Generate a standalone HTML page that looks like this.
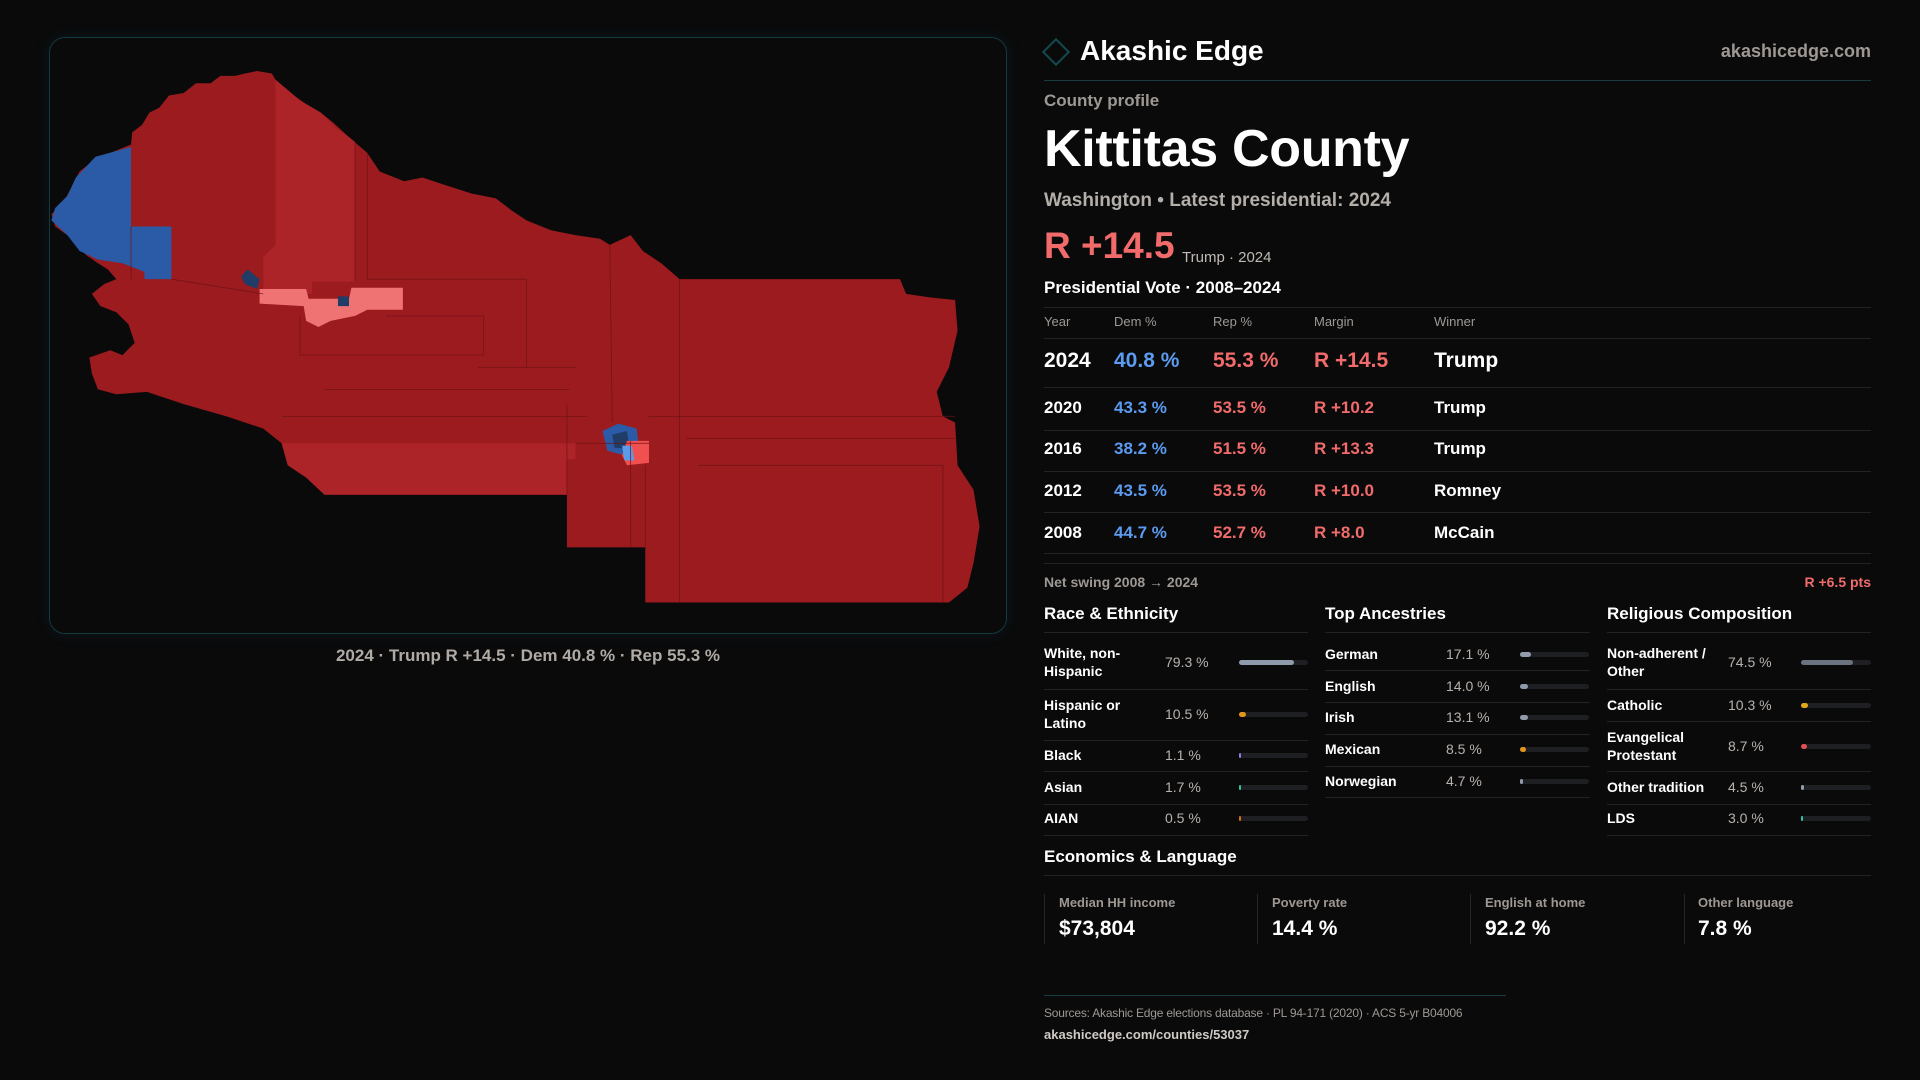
<!DOCTYPE html>
<html><head><meta charset="utf-8"><style>
*{margin:0;padding:0;box-sizing:border-box}
body{width:1920px;height:1080px;background:#0a0a0b;overflow:hidden;position:relative;font-family:"Liberation Sans",sans-serif;color:#fff}
.a{position:absolute;white-space:nowrap;line-height:1}
.g{color:#9e9893}
.r{color:#f26b6b}
.b{color:#5b9bf0}
.hl{position:absolute;height:1px;background:#222226}
.bar{position:absolute;height:5px;border-radius:3px;background:#1e1f23}
.bar i{position:absolute;left:0;top:0;height:5px;border-radius:3px}
.lab{font-size:14px;font-weight:bold;line-height:18px}
.val{font-size:14px;color:#b8b2ad}
.st{position:absolute;width:1px;background:#26262a;top:894px;height:50px}
</style></head><body>
<div style="position:absolute;left:49px;top:37px;width:958px;height:597px;border:1px solid #123a3f;border-radius:16px;box-shadow:0 0 14px rgba(20,90,100,0.18)"></div>
<svg style="position:absolute;left:0;top:0" width="1920" height="1080" viewBox="0 0 1568 882">
<path fill="#9b1b1f" d="M192,62 L200,60 L210,58 L222,60 L228,70 L240,78 L250,85 L262,92 L272,100 L285,112 L300,125 L310,140 L330,148 L345,145 L360,150 L385,158 L405,162 L418,172 L430,180 L450,188 L470,192 L490,195 L498,200 L515,192 L525,205 L540,215 L555,228 L735,228 L740,240 L760,243 L780,245 L782,270 L775,300 L765,320 L770,340 L780,345 L782,380 L795,400 L800,430 L795,460 L790,480 L775,492 L527,492 L527,447 L463,447 L463,404 L265,404 L250,390 L235,380 L230,362 L215,350 L185,340 L150,330 L120,320 L95,322 L80,318 L75,305 L73,292 L90,286 L100,290 L110,280 L105,265 L95,255 L82,250 L75,240 L85,232 L95,228 L88,220 L80,215 L70,208 L65,200 L55,192 L45,185 L42,175 L52,165 L60,150 L65,140 L78,130 L90,125 L107,118 L108,108 L116,102 L122,92 L130,88 L138,78 L150,76 L160,68 L172,68 L180,62Z"/>
<path fill="#ac2328" d="M225,65 L245,82 L262,92 L275,105 L285,112 L290,116 L290,230 L255,230 L255,240 L215,240 L215,210 L225,200Z"/>
<path fill="#ac2328" d="M230,362 L470,362 L470,375 L463,375 L463,404 L265,404 L250,390 L235,380Z"/>
<path fill="#2b5ba6" d="M78,128 L107,120 L107,185 L140,185 L140,228 L118,228 L118,222 L100,215 L80,212 L65,205 L55,192 L42,180 L45,170 L55,160 L62,145Z"/>
<path fill="#f07373" d="M212,236 L250,236 L252,244 L285,244 L287,235 L329,235 L329,253 L300,253 L290,258 L270,262 L260,267 L250,262 L248,250 L212,248Z"/>
<path fill="#1f3d66" d="M197,226 L202,220 L212,228 L210,236 L200,232Z M276,242 L285,242 L285,250 L276,250Z"/>
<path fill="#2b5ba6" d="M492,352 L505,346 L520,350 L522,368 L510,372 L496,368Z"/>
<path fill="#1f3d66" d="M500,355 L512,352 L514,366 L502,366Z"/>
<path fill="#f05050" d="M512,360 L530,360 L530,378 L512,380 L508,372Z"/>
<path fill="#5b9bea" d="M508,364 L516,364 L518,376 L510,376Z"/>
<g fill="none" stroke="#6e1215" stroke-width="0.7" opacity="0.8">
<path d="M107,185 L107,228 M140,228 L215,240 M290,116 L290,230 M300,125 L300,228 L430,228 M430,228 L430,300 M498,200 L500,345 M555,228 L555,492 M463,330 L463,404 M245,258 L245,290 L395,290 L395,258 L315,258 M390,300 L470,300 M265,318 L465,318 M230,340 L480,340 M470,362 L530,362 M530,340 L780,340 M560,358 L780,358 M570,380 L770,380 M527,380 L527,447 M770,380 L770,492 M515,360 L515,447"/>
</g>
</svg>
<div class="a g" style="left:0;width:1056px;text-align:center;top:647px;font-size:17px;color:#b0aaa5;font-weight:bold">2024 · Trump R +14.5 · Dem 40.8 % · Rep 55.3 %</div>

<div style="position:absolute;left:1046px;top:42px;width:20px;height:20px;border:2px solid #134a50;transform:rotate(45deg)"></div>
<div class="a" style="left:1080px;top:37px;font-size:28px;font-weight:bold">Akashic Edge</div>
<div class="a g" style="right:49px;top:42px;font-size:18px;font-weight:bold">akashicedge.com</div>
<div class="hl" style="left:1044px;width:827px;top:80px;background:#163b40"></div>
<div class="a g" style="left:1044px;top:92px;font-size:17px;font-weight:bold">County profile</div>
<div class="a" style="left:1044px;top:123px;font-size:52px;font-weight:bold;letter-spacing:-0.3px">Kittitas County</div>
<div class="a" style="left:1044px;top:191px;font-size:19px;font-weight:bold;color:#b4aea9">Washington • Latest presidential: 2024</div>
<div class="a r" style="left:1044px;top:227px;font-size:37px;font-weight:bold">R +14.5</div>
<div class="a" style="left:1182px;top:250px;font-size:15px;color:#c0bab5">Trump · 2024</div>
<div class="a" style="left:1044px;top:279px;font-size:17px;font-weight:bold">Presidential Vote · 2008–2024</div>
<div class="hl" style="left:1044px;width:827px;top:307px"></div>
<div class="a g" style="left:1044px;top:315px;font-size:13px">Year</div>
<div class="a g" style="left:1114px;top:315px;font-size:13px">Dem %</div>
<div class="a g" style="left:1213px;top:315px;font-size:13px">Rep %</div>
<div class="a g" style="left:1314px;top:315px;font-size:13px">Margin</div>
<div class="a g" style="left:1434px;top:315px;font-size:13px">Winner</div>
<div class="hl" style="left:1044px;width:827px;top:338px"></div>

<div style="position:absolute;left:1044px;top:350px;font-size:21px;font-weight:bold;line-height:22px">
<span class="a" style="left:0">2024</span><span class="a b" style="left:70px">40.8 %</span><span class="a r" style="left:169px">55.3 %</span><span class="a r" style="left:270px">R +14.5</span><span class="a" style="left:390px">Trump</span></div>
<div class="hl" style="left:1044px;width:827px;top:387px"></div>
<div style="position:absolute;left:1044px;top:399px;font-size:17px;font-weight:bold">
<span class="a" style="left:0">2020</span><span class="a b" style="left:70px">43.3 %</span><span class="a r" style="left:169px">53.5 %</span><span class="a r" style="left:270px">R +10.2</span><span class="a" style="left:390px">Trump</span></div>
<div class="hl" style="left:1044px;width:827px;top:430px"></div>
<div style="position:absolute;left:1044px;top:440px;font-size:17px;font-weight:bold">
<span class="a" style="left:0">2016</span><span class="a b" style="left:70px">38.2 %</span><span class="a r" style="left:169px">51.5 %</span><span class="a r" style="left:270px">R +13.3</span><span class="a" style="left:390px">Trump</span></div>
<div class="hl" style="left:1044px;width:827px;top:471px"></div>
<div style="position:absolute;left:1044px;top:482px;font-size:17px;font-weight:bold">
<span class="a" style="left:0">2012</span><span class="a b" style="left:70px">43.5 %</span><span class="a r" style="left:169px">53.5 %</span><span class="a r" style="left:270px">R +10.0</span><span class="a" style="left:390px">Romney</span></div>
<div class="hl" style="left:1044px;width:827px;top:512px"></div>
<div style="position:absolute;left:1044px;top:524px;font-size:17px;font-weight:bold">
<span class="a" style="left:0">2008</span><span class="a b" style="left:70px">44.7 %</span><span class="a r" style="left:169px">52.7 %</span><span class="a r" style="left:270px">R +8.0</span><span class="a" style="left:390px">McCain</span></div>
<div class="hl" style="left:1044px;width:827px;top:553px"></div>
<div class="hl" style="left:1044px;width:827px;top:563px"></div>
<div class="a g" style="left:1044px;top:575px;font-size:14px;font-weight:bold">Net swing 2008 → 2024</div>
<div class="a r" style="right:49px;top:575px;font-size:14px;font-weight:bold">R +6.5 pts</div>

<div class="a" style="left:1044px;top:605px;font-size:17px;font-weight:bold">Race &amp; Ethnicity</div>
<div class="a" style="left:1325px;top:605px;font-size:17px;font-weight:bold">Top Ancestries</div>
<div class="a" style="left:1607px;top:605px;font-size:17px;font-weight:bold">Religious Composition</div>
<div class="hl" style="left:1044px;width:264px;top:632px"></div>
<div class="hl" style="left:1325px;width:265px;top:632px"></div>
<div class="hl" style="left:1607px;width:264px;top:632px"></div>

<div class="a lab" style="left:1044px;top:644px">White, non-<br>Hispanic</div><div class="a val" style="left:1165px;top:655px">79.3 %</div><div class="bar" style="left:1239px;top:660px;width:69px"><i style="width:55px;background:#8f9aab"></i></div>
<div class="hl" style="left:1044px;width:264px;top:689px"></div>
<div class="a lab" style="left:1044px;top:696px">Hispanic or<br>Latino</div><div class="a val" style="left:1165px;top:707px">10.5 %</div><div class="bar" style="left:1239px;top:712px;width:69px"><i style="width:7px;background:#e0961a"></i></div>
<div class="hl" style="left:1044px;width:264px;top:740px"></div>
<div class="a lab" style="left:1044px;top:746px">Black</div><div class="a val" style="left:1165px;top:748px">1.1 %</div><div class="bar" style="left:1239px;top:753px;width:69px"><i style="width:2px;background:#8a7ee0"></i></div>
<div class="hl" style="left:1044px;width:264px;top:771px"></div>
<div class="a lab" style="left:1044px;top:778px">Asian</div><div class="a val" style="left:1165px;top:780px">1.7 %</div><div class="bar" style="left:1239px;top:785px;width:69px"><i style="width:2px;background:#2ec49a"></i></div>
<div class="hl" style="left:1044px;width:264px;top:804px"></div>
<div class="a lab" style="left:1044px;top:809px">AIAN</div><div class="a val" style="left:1165px;top:811px">0.5 %</div><div class="bar" style="left:1239px;top:816px;width:69px"><i style="width:2px;background:#d0701a"></i></div>
<div class="hl" style="left:1044px;width:264px;top:835px"></div>

<div class="a lab" style="left:1325px;top:645px">German</div><div class="a val" style="left:1446px;top:647px">17.1 %</div><div class="bar" style="left:1520px;top:652px;width:69px"><i style="width:11px;background:#8f9aab"></i></div>
<div class="hl" style="left:1325px;width:265px;top:670px"></div>
<div class="a lab" style="left:1325px;top:677px">English</div><div class="a val" style="left:1446px;top:679px">14.0 %</div><div class="bar" style="left:1520px;top:684px;width:69px"><i style="width:8px;background:#8f9aab"></i></div>
<div class="hl" style="left:1325px;width:265px;top:702px"></div>
<div class="a lab" style="left:1325px;top:708px">Irish</div><div class="a val" style="left:1446px;top:710px">13.1 %</div><div class="bar" style="left:1520px;top:715px;width:69px"><i style="width:8px;background:#8f9aab"></i></div>
<div class="hl" style="left:1325px;width:265px;top:734px"></div>
<div class="a lab" style="left:1325px;top:740px">Mexican</div><div class="a val" style="left:1446px;top:742px">8.5 %</div><div class="bar" style="left:1520px;top:747px;width:69px"><i style="width:6px;background:#e0961a"></i></div>
<div class="hl" style="left:1325px;width:265px;top:766px"></div>
<div class="a lab" style="left:1325px;top:772px">Norwegian</div><div class="a val" style="left:1446px;top:774px">4.7 %</div><div class="bar" style="left:1520px;top:779px;width:69px"><i style="width:3px;background:#8f9aab"></i></div>
<div class="hl" style="left:1325px;width:265px;top:797px"></div>

<div class="a lab" style="left:1607px;top:644px">Non-adherent /<br>Other</div><div class="a val" style="left:1728px;top:655px">74.5 %</div><div class="bar" style="left:1801px;top:660px;width:70px"><i style="width:52px;background:#6b7380"></i></div>
<div class="hl" style="left:1607px;width:264px;top:689px"></div>
<div class="a lab" style="left:1607px;top:696px">Catholic</div><div class="a val" style="left:1728px;top:698px">10.3 %</div><div class="bar" style="left:1801px;top:703px;width:70px"><i style="width:7px;background:#e0a81a"></i></div>
<div class="hl" style="left:1607px;width:264px;top:721px"></div>
<div class="a lab" style="left:1607px;top:728px">Evangelical<br>Protestant</div><div class="a val" style="left:1728px;top:739px">8.7 %</div><div class="bar" style="left:1801px;top:744px;width:70px"><i style="width:6px;background:#e05050"></i></div>
<div class="hl" style="left:1607px;width:264px;top:771px"></div>
<div class="a lab" style="left:1607px;top:778px">Other tradition</div><div class="a val" style="left:1728px;top:780px">4.5 %</div><div class="bar" style="left:1801px;top:785px;width:70px"><i style="width:3px;background:#8f9aab"></i></div>
<div class="hl" style="left:1607px;width:264px;top:804px"></div>
<div class="a lab" style="left:1607px;top:809px">LDS</div><div class="a val" style="left:1728px;top:811px">3.0 %</div><div class="bar" style="left:1801px;top:816px;width:70px"><i style="width:2px;background:#2ec4b0"></i></div>
<div class="hl" style="left:1607px;width:264px;top:835px"></div>

<div class="a" style="left:1044px;top:848px;font-size:17px;font-weight:bold">Economics &amp; Language</div>
<div class="hl" style="left:1044px;width:827px;top:875px"></div>
<div class="st" style="left:1044px"></div><div class="st" style="left:1257px"></div><div class="st" style="left:1470px"></div><div class="st" style="left:1684px"></div>
<div class="a g" style="left:1059px;top:896px;font-size:13px;font-weight:bold">Median HH income</div>
<div class="a" style="left:1059px;top:918px;font-size:21px;font-weight:bold">$73,804</div>
<div class="a g" style="left:1272px;top:896px;font-size:13px;font-weight:bold">Poverty rate</div>
<div class="a" style="left:1272px;top:918px;font-size:21px;font-weight:bold">14.4 %</div>
<div class="a g" style="left:1485px;top:896px;font-size:13px;font-weight:bold">English at home</div>
<div class="a" style="left:1485px;top:918px;font-size:21px;font-weight:bold">92.2 %</div>
<div class="a g" style="left:1698px;top:896px;font-size:13px;font-weight:bold">Other language</div>
<div class="a" style="left:1698px;top:918px;font-size:21px;font-weight:bold">7.8 %</div>

<div class="hl" style="left:1044px;width:462px;top:995px;background:#163b40"></div>
<div class="a g" style="left:1044px;top:1007px;font-size:12px;letter-spacing:-0.2px">Sources: Akashic Edge elections database · PL 94-171 (2020) · ACS 5-yr B04006</div>
<div class="a" style="left:1044px;top:1028px;font-size:13px;color:#d0cac5;font-weight:bold">akashicedge.com/counties/53037</div>
</body></html>
